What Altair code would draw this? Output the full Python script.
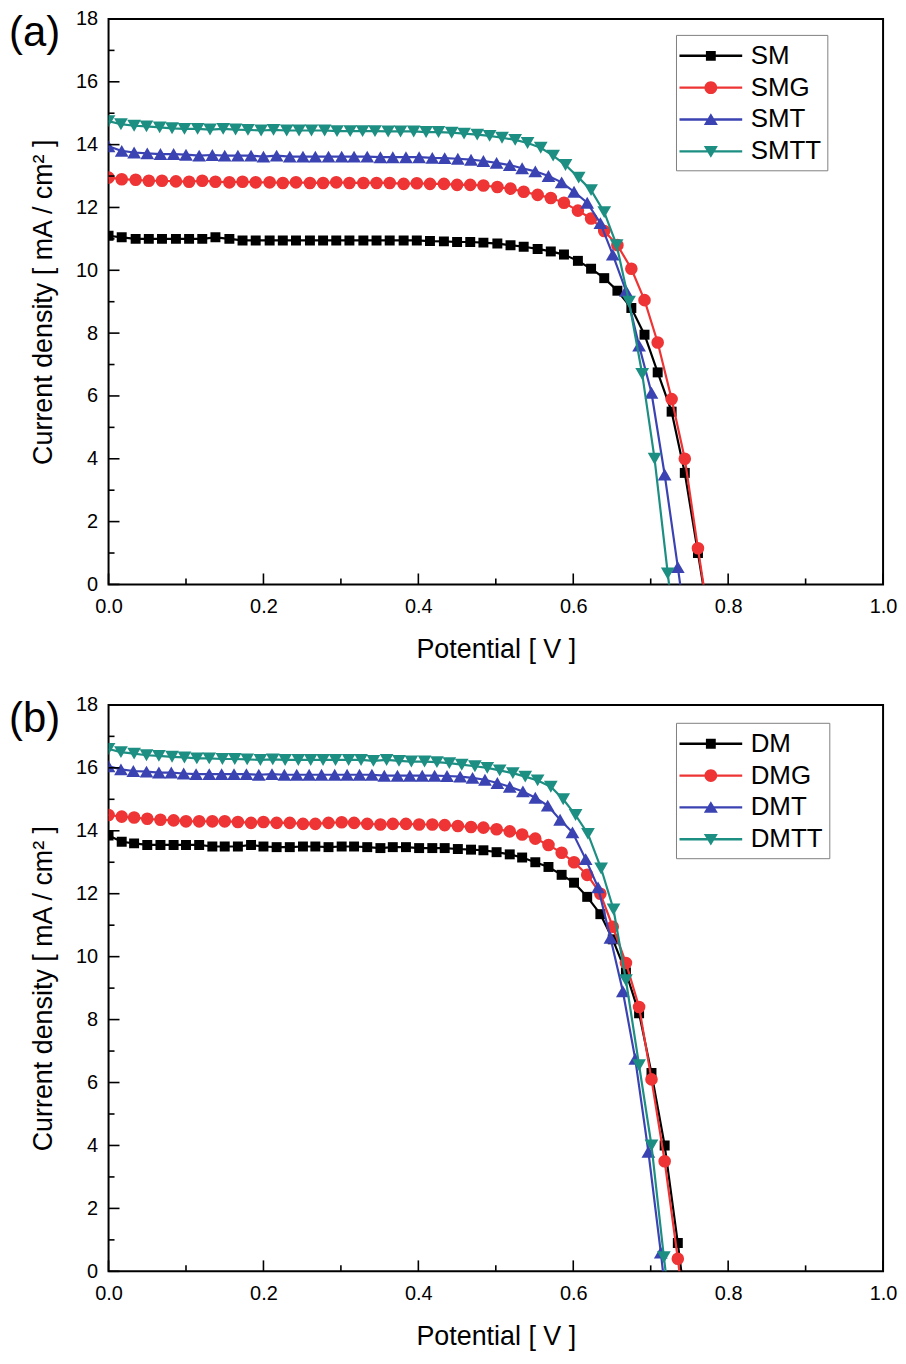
import altair as alt
import pandas as pd

# ---------------- data ----------------
V_A = [0.000, 0.017, 0.035, 0.052, 0.069, 0.087, 0.104, 0.121, 0.138, 0.156,
       0.173, 0.190, 0.208, 0.225, 0.242, 0.260, 0.277, 0.294, 0.311, 0.329,
       0.346, 0.363, 0.381, 0.398, 0.415, 0.433, 0.450, 0.467, 0.484, 0.502,
       0.519, 0.536, 0.554, 0.571, 0.588, 0.606, 0.623, 0.640, 0.657, 0.675,
       0.692, 0.709, 0.727, 0.744, 0.761, 0.778]
V_B = [0.000, 0.017, 0.033, 0.050, 0.067, 0.084, 0.100, 0.117, 0.134, 0.150,
       0.167, 0.184, 0.200, 0.217, 0.234, 0.251, 0.267, 0.284, 0.301, 0.317,
       0.334, 0.351, 0.367, 0.384, 0.401, 0.418, 0.434, 0.451, 0.468, 0.484,
       0.501, 0.518, 0.534, 0.551, 0.568, 0.585, 0.601, 0.618, 0.635, 0.651,
       0.668, 0.685, 0.701, 0.718, 0.735, 0.752]
V_C = [0.000, 0.016, 0.033, 0.049, 0.066, 0.082, 0.098, 0.115, 0.131, 0.148,
       0.164, 0.180, 0.197, 0.213, 0.230, 0.246, 0.262, 0.279, 0.295, 0.312,
       0.328, 0.344, 0.361, 0.377, 0.394, 0.410, 0.426, 0.443, 0.459, 0.476,
       0.492, 0.508, 0.525, 0.541, 0.558, 0.574, 0.590, 0.607, 0.623, 0.640,
       0.656, 0.672, 0.689, 0.705, 0.722, 0.738]
V_D = [0.000, 0.016, 0.032, 0.049, 0.065, 0.081, 0.097, 0.113, 0.130, 0.146,
       0.162, 0.178, 0.194, 0.211, 0.227, 0.243, 0.259, 0.275, 0.292, 0.308,
       0.324, 0.340, 0.356, 0.373, 0.389, 0.405, 0.421, 0.437, 0.454, 0.470,
       0.486, 0.502, 0.518, 0.535, 0.551, 0.567, 0.583, 0.599, 0.616, 0.632,
       0.648, 0.664, 0.680, 0.697, 0.713, 0.729]
V_E = [0.000, 0.016, 0.033, 0.049, 0.065, 0.082, 0.098, 0.114, 0.130, 0.147,
       0.163, 0.179, 0.196, 0.212, 0.228, 0.245, 0.261, 0.277, 0.293, 0.310,
       0.326, 0.342, 0.359, 0.375, 0.391, 0.408, 0.424, 0.440, 0.456, 0.473,
       0.489, 0.505, 0.522, 0.538, 0.554, 0.571, 0.587, 0.603, 0.619, 0.636,
       0.652, 0.668, 0.685, 0.701, 0.717, 0.734]

# panel (a)
J_SM = [11.10, 11.05, 11.00, 11.00, 11.00, 11.00, 11.00, 11.00, 11.05, 11.00,
        10.95, 10.95, 10.95, 10.95, 10.95, 10.95, 10.95, 10.95, 10.95, 10.95,
        10.95, 10.95, 10.95, 10.95, 10.93, 10.92, 10.90, 10.90, 10.88, 10.85,
        10.80, 10.75, 10.68, 10.60, 10.50, 10.30, 10.05, 9.75, 9.35, 8.80,
        7.95, 6.75, 5.50, 3.55, 1.00, -1.60]
J_SMG = [12.95, 12.90, 12.88, 12.85, 12.85, 12.83, 12.82, 12.85, 12.82, 12.80,
         12.82, 12.80, 12.80, 12.78, 12.80, 12.78, 12.78, 12.80, 12.78, 12.78,
         12.78, 12.78, 12.75, 12.77, 12.75, 12.75, 12.72, 12.72, 12.70, 12.65,
         12.60, 12.50, 12.40, 12.30, 12.15, 11.90, 11.65, 11.25, 10.80, 10.05,
         9.05, 7.70, 5.90, 4.00, 1.15, -1.60]
J_SMT = [13.95, 13.80, 13.75, 13.72, 13.70, 13.70, 13.68, 13.65, 13.67, 13.65,
         13.65, 13.65, 13.62, 13.65, 13.62, 13.62, 13.62, 13.62, 13.62, 13.62,
         13.62, 13.60, 13.60, 13.60, 13.60, 13.58, 13.57, 13.55, 13.52, 13.48,
         13.42, 13.35, 13.25, 13.15, 13.00, 12.80, 12.50, 12.15, 11.50, 10.50,
         9.35, 7.60, 6.10, 3.50, 0.55, -2.50]
J_SMTT = [14.75, 14.65, 14.60, 14.58, 14.55, 14.52, 14.50, 14.50, 14.48, 14.50,
          14.48, 14.47, 14.45, 14.47, 14.45, 14.45, 14.45, 14.45, 14.43, 14.43,
          14.43, 14.43, 14.42, 14.42, 14.42, 14.40, 14.40, 14.38, 14.35, 14.32,
          14.28, 14.22, 14.15, 14.05, 13.90, 13.65, 13.35, 12.95, 12.55, 11.85,
          10.80, 9.00, 6.70, 4.00, 0.35, -3.00]

# panel (b)
J_DM = [13.85, 13.65, 13.60, 13.55, 13.55, 13.55, 13.55, 13.55, 13.50, 13.50,
        13.50, 13.55, 13.50, 13.48, 13.48, 13.50, 13.50, 13.48, 13.50, 13.50,
        13.48, 13.45, 13.48, 13.48, 13.45, 13.45, 13.45, 13.42, 13.40, 13.38,
        13.32, 13.25, 13.15, 13.00, 12.85, 12.60, 12.35, 11.90, 11.35, 10.55,
        9.50, 8.20, 6.30, 4.00, 0.90, -2.50]
J_DMG = [14.50, 14.45, 14.42, 14.38, 14.35, 14.33, 14.30, 14.30, 14.30, 14.30,
         14.28, 14.25, 14.28, 14.25, 14.25, 14.22, 14.22, 14.25, 14.27, 14.25,
         14.22, 14.20, 14.22, 14.22, 14.20, 14.20, 14.18, 14.15, 14.12, 14.10,
         14.05, 13.98, 13.88, 13.75, 13.55, 13.30, 13.00, 12.60, 12.00, 10.95,
         9.80, 8.40, 6.10, 3.50, 0.40, -3.00]
J_DMT = [16.05, 15.95, 15.90, 15.88, 15.85, 15.85, 15.82, 15.80, 15.80, 15.80,
         15.80, 15.80, 15.78, 15.80, 15.78, 15.78, 15.78, 15.78, 15.78, 15.78,
         15.78, 15.78, 15.75, 15.75, 15.75, 15.75, 15.75, 15.74, 15.72, 15.68,
         15.62, 15.52, 15.40, 15.25, 15.05, 14.80, 14.35, 13.95, 13.10, 12.20,
         10.60, 8.90, 6.75, 3.80, 0.60, -2.80]
J_DMTT = [16.60, 16.50, 16.45, 16.40, 16.38, 16.35, 16.33, 16.30, 16.30, 16.28,
          16.28, 16.27, 16.25, 16.27, 16.25, 16.25, 16.25, 16.25, 16.25, 16.25,
          16.25, 16.22, 16.25, 16.22, 16.20, 16.20, 16.18, 16.15, 16.10, 16.05,
          16.00, 15.92, 15.83, 15.72, 15.60, 15.40, 15.00, 14.50, 13.90, 12.80,
          11.50, 9.25, 6.55, 4.00, 0.45, -3.00]

NAMES_A = ["SM", "SMG", "SMT", "SMTT"]
NAMES_B = ["DM", "DMG", "DMT", "DMTT"]

X_MAJOR = [0.0, 0.2, 0.4, 0.6, 0.8, 1.0]
X_MINOR = [0.1, 0.3, 0.5, 0.7, 0.9]
Y_MAJOR = [0, 2, 4, 6, 8, 10, 12, 14, 16, 18]
Y_MINOR = [1, 3, 5, 7, 9, 11, 13, 15, 17]

# ---------------- styling ----------------
FONT = "Liberation Sans"
COLORS = ["#000000", "#ee3434", "#3b43b3", "#1d8e82"]
SHAPES = ["square", "circle", "triangle-up", "triangle-down"]
SIZES = [100, 160, 190, 190]
LINE = "M-2.1,-0.08L2.1,-0.08L2.1,0.08L-2.1,0.08Z"
LEGEND_PATHS = [
    LINE + "M-0.33,-0.33L0.33,-0.33L0.33,0.33L-0.33,0.33Z",
    LINE + "M-0.43,0A0.43,0.43,0,1,1,0.43,0A0.43,0.43,0,1,1,-0.43,0Z",
    LINE + "M0,-0.42L0.47,0.36L-0.47,0.36Z",
    LINE + "M0,0.42L-0.47,-0.36L0.47,-0.36Z",
]
W = 778


def panel(names, vlists, jlists, tag, tag_y, h, leg_y):
    rows = []
    for n, vs, js in zip(names, vlists, jlists):
        for v, j in zip(vs, js):
            rows.append({"series": n, "V": v, "J": j})
    df = pd.DataFrame(rows)

    xs = alt.Scale(domain=[0, 1], nice=False, zero=False)
    ys = alt.Scale(domain=[0, 18], nice=False)
    x_axis = alt.Axis(values=X_MAJOR, format=".1f", ticks=False, domain=False, grid=False,
                      labelPadding=12, labelFontSize=20, labelFont=FONT, labelColor="black",
                      labelFlush=False, labelOverlap=False,
                      title="Potential [ V ]", titleFontSize=27, titleFont=FONT,
                      titleFontWeight="normal", titleColor="black", titlePadding=20)
    y_axis = alt.Axis(values=Y_MAJOR, ticks=False, domain=False, grid=False,
                      labelPadding=11, labelFontSize=20, labelFont=FONT, labelColor="black",
                      labelFlush=False, labelOverlap=False,
                      title="Current density [ mA / cm² ]", titleFontSize=27, titleFont=FONT,
                      titleFontWeight="normal", titleColor="black", titlePadding=18)

    def X(f):
        return alt.X(f, scale=xs, axis=x_axis)

    def Y(f):
        return alt.Y(f, scale=ys, axis=y_axis)

    base = alt.Chart(df)
    layers = []
    for n, c, s, sz in zip(names, COLORS, SHAPES, SIZES):
        sub = base.transform_filter(alt.datum.series == n)
        layers.append(sub.mark_line(strokeWidth=2.2, color=c, clip=True).encode(x=X("V:Q"), y=Y("J:Q")))
        layers.append(
            sub.mark_point(filled=True, opacity=1, shape=s, size=sz, color=c, clip=True)
            .encode(x=X("V:Q"), y=Y("J:Q"))
        )

    leg = alt.Legend(orient="none", legendX=570, legendY=leg_y, title=None, padding=6,
                     strokeColor="#808080", fillColor="white", symbolSize=900,
                     symbolStrokeWidth=0, symbolOffset=14, labelOffset=25,
                     labelFontSize=26, labelFont=FONT, labelColor="black",
                     rowPadding=4, labelLimit=300)
    legend_layer = base.transform_filter("false").mark_point(filled=True, size=900, opacity=1).encode(
        x=X("V:Q"),
        y=Y("J:Q"),
        color=alt.Color("series:N", scale=alt.Scale(domain=names, range=COLORS), legend=leg),
        shape=alt.Shape("series:N", scale=alt.Scale(domain=names, range=LEGEND_PATHS), legend=leg),
    )
    layers.append(legend_layer)

    # inward ticks
    tick_w = 1.6
    layers.append(alt.Chart(pd.DataFrame({"t": X_MAJOR})).mark_rule(color="black", strokeWidth=tick_w).encode(
        x=X("t:Q"), y=alt.value(h), y2=alt.value(h - 11)))
    layers.append(alt.Chart(pd.DataFrame({"t": X_MINOR})).mark_rule(color="black", strokeWidth=tick_w).encode(
        x=X("t:Q"), y=alt.value(h), y2=alt.value(h - 6)))
    layers.append(alt.Chart(pd.DataFrame({"t": Y_MAJOR})).mark_rule(color="black", strokeWidth=tick_w).encode(
        y=Y("t:Q"), x=alt.value(0), x2=alt.value(11)))
    layers.append(alt.Chart(pd.DataFrame({"t": Y_MINOR})).mark_rule(color="black", strokeWidth=tick_w).encode(
        y=Y("t:Q"), x=alt.value(0), x2=alt.value(6)))

    layers.append(alt.Chart(pd.DataFrame({"t": [tag]})).mark_text(
        align="left", baseline="top", fontSize=42, font=FONT, color="black").encode(
        text="t:N", x=alt.value(-100), y=alt.value(tag_y)))

    return alt.layer(*layers).properties(width=W, height=h)


pa = panel(NAMES_A, [V_A, V_A, V_B, V_C], [J_SM, J_SMG, J_SMT, J_SMTT], "(a)", -6, 568, 16)
pb = panel(NAMES_B, [V_B, V_B, V_D, V_E], [J_DM, J_DMG, J_DMT, J_DMTT], "(b)", -6, 569, 18)

chart = alt.vconcat(pa, pb, spacing=31).resolve_scale(
    color="independent", shape="independent"
).properties(
    padding={"left": 0, "top": -3, "right": 0, "bottom": 0}
).configure(font=FONT).configure_view(stroke="black", strokeWidth=2)

chart.save("out.html", embed_options={"renderer": "svg", "actions": False})
